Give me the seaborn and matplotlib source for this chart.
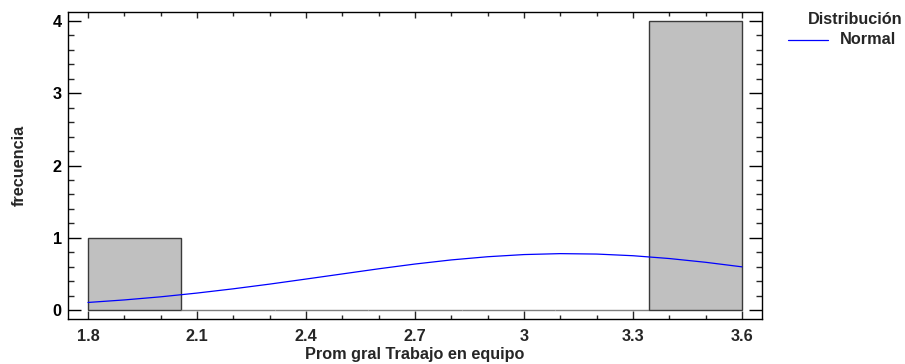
import numpy as np
import pandas as pd
import matplotlib
matplotlib.use("Agg")
import matplotlib.pyplot as plt
from matplotlib.ticker import MultipleLocator
import seaborn as sns

# Histogram data (bin edges and counts)
bin_edges = [1.8, 2.0571, 2.3143, 2.5714, 2.8286, 3.0857, 3.3429, 3.6]
counts = [1, 0, 0, 0, 0, 0, 4]

# Fitted normal curve
curve_x = [1.8, 1.9, 2.0, 2.1, 2.2, 2.3, 2.4, 2.5, 2.6, 2.7, 2.8, 2.9,
           3.0, 3.1, 3.2, 3.3, 3.4, 3.5, 3.6]
curve_y = [0.104, 0.139, 0.182, 0.234, 0.293, 0.358, 0.428, 0.499, 0.570,
           0.636, 0.693, 0.737, 0.767, 0.780, 0.774, 0.751, 0.712, 0.660, 0.597]

sns.set_style("white")
plt.rcParams['font.family'] = ['Liberation Sans', 'DejaVu Sans']
plt.rcParams['font.weight'] = 'bold'

FS = 11.7

fig = plt.figure(figsize=(9.05, 3.64), dpi=100)
ax = fig.add_axes([68/905, 45/364, (762-68)/905, (319-12)/364])

centers = [(bin_edges[i] + bin_edges[i+1]) / 2 for i in range(len(counts))]
hist_df = pd.DataFrame({"x": centers, "w": counts})
sns.histplot(data=hist_df, x="x", weights="w", bins=bin_edges, ax=ax,
             color="#C0C0C0", edgecolor="#3a3a3a", linewidth=1.0, alpha=1.0)
for p in ax.patches:
    if p.get_height() == 0:
        p.set_edgecolor("#808080")

curve_df = pd.DataFrame({"x": curve_x, "y": curve_y})
sns.lineplot(data=curve_df, x="x", y="y", ax=ax, color="#0000FF", linewidth=0.9)

ax.set_xlim(1.745, 3.655)
ax.set_ylim(-0.125, 4.125)
ax.xaxis.set_major_locator(MultipleLocator(0.3))
ax.xaxis.set_minor_locator(MultipleLocator(0.1))
ax.yaxis.set_major_locator(MultipleLocator(1))
ax.yaxis.set_minor_locator(MultipleLocator(0.2))
ax.set_xticks([1.8, 2.1, 2.4, 2.7, 3.0, 3.3, 3.6])
ax.set_xticklabels(["1.8", "2.1", "2.4", "2.7", "3", "3.3", "3.6"])

for s in ax.spines.values():
    s.set_visible(True)
    s.set_color("black")
    s.set_linewidth(1.0)

ax.tick_params(axis='y', which='major', direction='in', length=9.5, width=1,
               left=True, right=True, labelsize=FS, pad=4.5, colors='black')
ax.tick_params(axis='y', which='minor', direction='in', length=4.5, width=1,
               left=True, right=True)
ax.tick_params(axis='x', which='major', direction='in', length=6, width=1,
               bottom=True, top=False, labelsize=FS, pad=7)
ax.tick_params(axis='x', which='minor', direction='in', length=3, width=1,
               bottom=True, top=False)

sec = ax.secondary_xaxis('top')
sec.xaxis.set_major_locator(MultipleLocator(0.3))
sec.xaxis.set_minor_locator(MultipleLocator(0.1))
sec.tick_params(axis='x', which='major', direction='in', length=4, width=1,
                labeltop=False)
sec.tick_params(axis='x', which='minor', direction='in', length=3, width=1)
sec.spines['top'].set_visible(False)

ax.set_xlabel("Prom gral Trabajo en equipo", fontsize=FS, fontweight='bold')
ax.xaxis.set_label_coords(0.5, -(347 - 319) / 307)
ax.set_ylabel("frecuencia", fontsize=FS, fontweight='bold')
ax.yaxis.set_label_coords(-(68 - 27) / 694, 0.5)

# Legend
fig.text(855/905, 1 - 20/364, "Distribución", ha='center', va='center',
         fontsize=FS, fontweight='bold')
fig.add_artist(plt.Line2D([788/905, 828/905], [1 - 40/364, 1 - 40/364],
                          color="#0000FF", linewidth=0.9))
fig.text(868/905, 1 - 40/364, "Normal", ha='center', va='center',
         fontsize=FS, fontweight='bold')

fig.savefig("out.png", dpi=100)
